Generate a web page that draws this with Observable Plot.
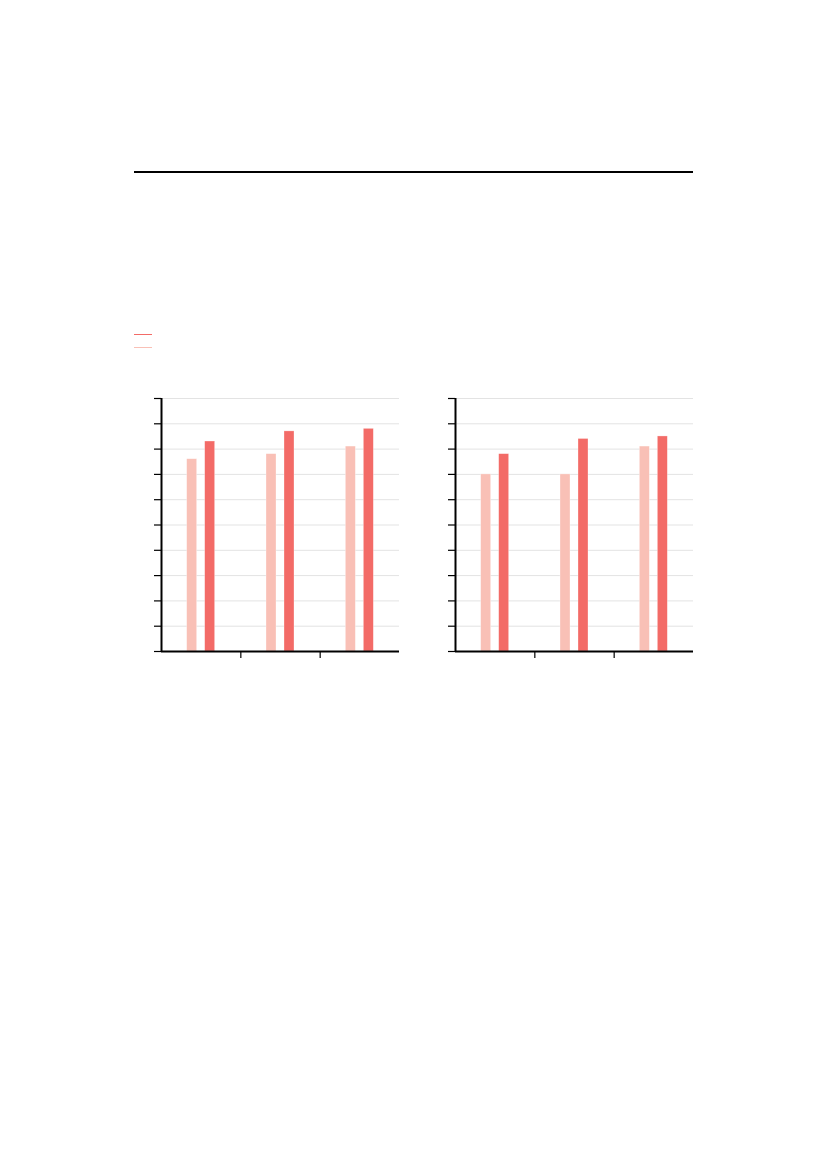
<!DOCTYPE html>
<html>
<head>
<meta charset="utf-8">
<script src="https://cdn.jsdelivr.net/npm/d3@7"></script>
<script src="https://cdn.jsdelivr.net/npm/@observablehq/plot@0.6"></script>
<style>
  html, body { margin: 0; padding: 0; background: #ffffff; }
  body { width: 827px; height: 1169px; position: relative; overflow: hidden; font-family: "DejaVu Sans", sans-serif; }
  .abs { position: absolute; }
  #titleRule { left: 134px; top: 171px; width: 558.5px; height: 2px; background: #000; }
  .legLine { position: absolute; left: 134px; width: 18px; height: 1.2px; }
</style>
</head>
<body>
<div id="titleRule" class="abs"></div>
<div id="legend"></div>
<div id="p1" class="abs" style="left:120px; top:380px;"></div>
<div id="p2" class="abs" style="left:414px; top:380px;"></div>
<script>
// ---- data ----
const categories = ["Group 1", "Group 2", "Group 3"];
const seriesNames = ["Series 1", "Series 2"];      // light, dark
const seriesColors = ["#f9c0b6", "#f36b67"];
const legendOrder = [1, 0];                           // dark first, then light
const leftLight  = [76, 78, 81];
const leftDark   = [83, 87, 88];
const rightLight = [70, 70, 81];
const rightDark  = [78, 84, 85];
const yTicks = [0, 10, 20, 30, 40, 50, 60, 70, 80, 90, 100];
const xBoundaryTicks = [1, 2];

// ---- legend ----
const legend = document.getElementById("legend");
legendOrder.forEach((s, k) => {
  const d = document.createElement("div");
  d.className = "legLine";
  d.title = seriesNames[s];
  d.style.top = (333.5 + k * 13.3) + "px";
  d.style.background = seriesColors[s];
  legend.appendChild(d);
});

// ---- panels ----
const barW = 0.126;     // bar width in category units
const barOff = 0.1134;  // half distance between bar centres

function rows(light, dark) {
  const out = [];
  categories.forEach((c, i) => {
    out.push({cat: c, i, series: seriesNames[0], s: 0, value: light[i]});
    out.push({cat: c, i, series: seriesNames[1], s: 1, value: dark[i]});
  });
  return out;
}

function panel(light, dark) {
  const data = rows(light, dark);
  const center = d => d.i + 0.5 + (d.s === 0 ? -barOff : barOff);
  return Plot.plot({
    width: 290,
    height: 300,
    marginLeft: 41,
    marginRight: 11,
    marginTop: 18,
    marginBottom: 29,
    style: {background: "#ffffff", color: "#000000", overflow: "visible"},
    x: {type: "linear", domain: [0, categories.length]},
    y: {domain: [0, 100]},
    marks: [
      Plot.gridY(yTicks.slice(1), {stroke: "#e3e3e3", strokeOpacity: 1, strokeWidth: 1}),
      Plot.rectY(data, {
        x1: d => center(d) - barW / 2,
        x2: d => center(d) + barW / 2,
        y1: 0,
        y2: "value",
        fill: d => seriesColors[d.s],
        stroke: "#ffffff",
        strokeOpacity: 0.5,
        strokeWidth: 0.6
      }),
      Plot.axisY(yTicks, {tickSize: 7, tickFormat: () => "", label: null, stroke: "#000", strokeWidth: 1.2}),
      Plot.axisX(xBoundaryTicks, {tickSize: 7, tickFormat: () => "", label: null, stroke: "#000", strokeWidth: 1.2}),
      Plot.ruleX([0], {y1: 0, y2: 100, stroke: "#000", strokeWidth: 2}),
      Plot.ruleY([0], {stroke: "#000", strokeWidth: 2})
    ]
  });
}

document.getElementById("p1").appendChild(panel(leftLight, leftDark));
document.getElementById("p2").appendChild(panel(rightLight, rightDark));
</script>
</body>
</html>
